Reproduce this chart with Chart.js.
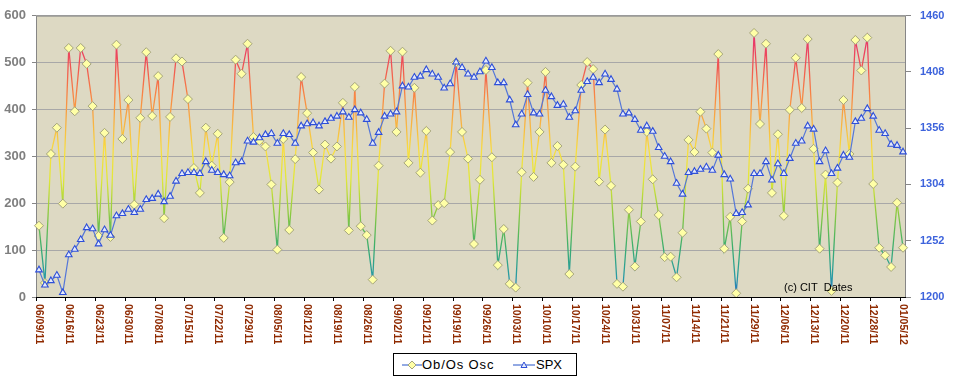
<!DOCTYPE html>
<html>
<head>
<meta charset="utf-8">
<script src="https://cdn.jsdelivr.net/npm/chart.js@4/dist/chart.umd.min.js"></script>
<style>
html,body{margin:0;padding:0;background:#fff;}
#wrap{position:relative;width:958px;height:381px;overflow:hidden;}
canvas{display:block;}
#legend{position:absolute;left:393px;top:353px;width:182px;height:21px;border:1px solid #000;background:#fff;
  font-family:"Liberation Sans",Arial,sans-serif;font-size:13px;color:#000;}
#legend .it{position:absolute;top:0;height:21px;line-height:21px;white-space:nowrap;}
#legend svg{position:absolute;top:0;}
</style>
</head>
<body>
<div id="wrap">
<canvas id="c" width="958" height="381"></canvas>
<div id="legend">
  <svg style="left:8px" width="20" height="21"><line x1="0" y1="11" x2="20" y2="11" stroke="#4A70D0" stroke-width="1.2"/><polygon points="10,7 14,11 10,15 6,11" fill="#FFFFA6" stroke="#A4A47C" stroke-width="1"/></svg>
  <span class="it" style="left:28px;letter-spacing:0.9px">Ob/Os Osc</span>
  <svg style="left:119px" width="22" height="21"><line x1="0" y1="11" x2="22" y2="11" stroke="#4A70D0" stroke-width="1.2"/><polygon points="11,8 14,13.5 8,13.5" fill="#E4EAFB" stroke="#2E4FD8" stroke-width="1"/></svg>
  <span class="it" style="left:142px">SPX</span>
</div>
</div>
<script>
const categories = [
'06/09/11','06/10/11','06/13/11','06/14/11','06/15/11','06/16/11','06/17/11','06/20/11','06/21/11','06/22/11',
'06/23/11','06/24/11','06/27/11','06/28/11','06/29/11','06/30/11','07/01/11','07/05/11','07/06/11','07/07/11',
'07/08/11','07/11/11','07/12/11','07/13/11','07/14/11','07/15/11','07/18/11','07/19/11','07/20/11','07/21/11',
'07/22/11','07/25/11','07/26/11','07/27/11','07/28/11','07/29/11','08/01/11','08/02/11','08/03/11','08/04/11',
'08/05/11','08/08/11','08/09/11','08/10/11','08/11/11','08/12/11','08/15/11','08/16/11','08/17/11','08/18/11',
'08/19/11','08/22/11','08/23/11','08/24/11','08/25/11','08/26/11','08/29/11','08/30/11','08/31/11','09/01/11',
'09/02/11','09/06/11','09/07/11','09/08/11','09/09/11','09/12/11','09/13/11','09/14/11','09/15/11','09/16/11',
'09/19/11','09/20/11','09/21/11','09/22/11','09/23/11','09/26/11','09/27/11','09/28/11','09/29/11','09/30/11',
'10/03/11','10/04/11','10/05/11','10/06/11','10/07/11','10/10/11','10/11/11','10/12/11','10/13/11','10/14/11',
'10/17/11','10/18/11','10/19/11','10/20/11','10/21/11','10/24/11','10/25/11','10/26/11','10/27/11','10/28/11',
'10/31/11','11/01/11','11/02/11','11/03/11','11/04/11','11/07/11','11/08/11','11/09/11','11/10/11','11/11/11',
'11/14/11','11/15/11','11/16/11','11/17/11','11/18/11','11/21/11','11/22/11','11/23/11','11/25/11','11/28/11',
'11/29/11','11/30/11','12/01/11','12/02/11','12/05/11','12/06/11','12/07/11','12/08/11','12/09/11','12/12/11',
'12/13/11','12/14/11','12/15/11','12/16/11','12/19/11','12/20/11','12/21/11','12/22/11','12/23/11','12/27/11',
'12/28/11','12/29/11','12/30/11','01/03/12','01/04/12','01/05/12'
];

const oscValues = [
152,30,305,361,199,531,396,531,497,407,
130,350,128,538,337,420,197,382,522,386,
471,168,384,509,502,422,275,222,361,280,
348,126,245,506,476,540,341,333,321,240,
101,337,143,294,469,392,308,229,325,295,
321,414,142,448,151,132,37,280,455,525,
352,523,286,446,265,354,163,196,200,309,
500,352,295,113,250,484,298,68,145,28,
20,266,457,256,352,480,286,322,282,49,
278,452,501,486,246,357,237,28,22,186,
65,161,352,251,175,85,86,42,137,335,
309,395,359,308,518,103,171,8,161,231,
563,369,540,222,347,173,399,510,403,550,
316,103,261,13,244,420,305,548,483,553,
241,105,89,64,201,105
];

const spxValues = [
1225,1211,1215,1220,1204,1239,1244,1253,1264,1263,
1249,1262,1257,1275,1277,1281,1278,1281,1290,1291,
1295,1288,1293,1307,1314,1315,1315,1314,1325,1317,
1315,1313,1312,1324,1325,1344,1343,1347,1350,1351,
1342,1351,1350,1342,1358,1360,1361,1358,1362,1365,
1367,1371,1366,1373,1370,1364,1342,1352,1367,1369,
1371,1395,1394,1403,1404,1410,1406,1403,1393,1397,
1417,1412,1406,1403,1408,1418,1412,1398,1398,1382,
1359,1369,1387,1370,1369,1391,1385,1377,1378,1366,
1372,1391,1399,1403,1398,1406,1401,1392,1369,1370,
1364,1354,1358,1353,1338,1330,1325,1305,1295,1315,
1316,1318,1320,1317,1331,1313,1309,1277,1278,1285,
1314,1314,1325,1308,1323,1314,1328,1342,1344,1358,
1355,1325,1335,1314,1319,1331,1329,1362,1365,1374,
1367,1354,1351,1341,1340,1334
];

const labelStep = 5;              // a date label every 5 trading days
const oscAxis = {min: 0, max: 600, step: 100};
const spxAxis = {min: 1200, max: 1460, step: 52};
const FONT = '"Liberation Sans", Arial, sans-serif';

let gradCache = null, gradKey = '';
function oscGradient(chart) {
  const ys = chart.scales.y;
  const y0 = ys.getPixelForValue(oscAxis.min), y1 = ys.getPixelForValue(oscAxis.max);
  const key = y0 + '_' + y1;
  if (gradCache && gradKey === key) return gradCache;
  const g = chart.ctx.createLinearGradient(0, y0, 0, y1);
  g.addColorStop(0.00, '#2F6CC4');
  g.addColorStop(0.07, '#279AA6');
  g.addColorStop(0.18, '#3CAE6C');
  g.addColorStop(0.30, '#8ECB3E');
  g.addColorStop(0.42, '#E2E838');
  g.addColorStop(0.52, '#F8DE40');
  g.addColorStop(0.62, '#F8B242');
  g.addColorStop(0.72, '#F88444');
  g.addColorStop(0.82, '#F05452');
  g.addColorStop(0.92, '#E8346C');
  g.addColorStop(1.00, '#E02080');
  gradCache = g; gradKey = key;
  return g;
}

const deco = {
  id: 'deco',
  beforeDraw(chart) {
    const {ctx, chartArea: a} = chart;
    ctx.save();
    ctx.fillStyle = '#DDD9C3';
    ctx.fillRect(a.left, a.top, a.right - a.left, a.bottom - a.top);
    ctx.restore();
  },
  beforeDatasetsDraw(chart) {
    const {ctx, chartArea: a} = chart;
    ctx.save();
    ctx.lineWidth = 1;
    ctx.strokeStyle = '#868686';
    ctx.beginPath();
    ctx.moveTo(a.left + 0.5, a.bottom);
    ctx.lineTo(a.left + 0.5, a.top + 0.5);
    ctx.lineTo(a.right - 0.5, a.top + 0.5);
    ctx.lineTo(a.right - 0.5, a.bottom);
    ctx.stroke();
    ctx.strokeStyle = '#000';
    ctx.beginPath();
    ctx.moveTo(a.left, a.bottom + 0.5);
    ctx.lineTo(a.right, a.bottom + 0.5);
    ctx.stroke();
    ctx.restore();
  },
  afterDraw(chart) {
    const {ctx, chartArea: a} = chart;
    const xs = chart.scales.x;
    ctx.save();
    ctx.font = 'bold 10.5px ' + FONT;
    ctx.fillStyle = '#8F2A00';
    ctx.textAlign = 'left';
    ctx.textBaseline = 'middle';
    categories.forEach((lab, i) => {
      if (i % labelStep !== 0) return;
      const x = xs.getPixelForValue(i);
      ctx.save();
      ctx.translate(x, a.bottom + 7);
      ctx.rotate(Math.PI / 2);
      ctx.fillText(lab, 0, 0);
      ctx.restore();
    });
    ctx.font = '11px ' + FONT;
    ctx.fillStyle = '#000';
    ctx.textBaseline = 'alphabetic';
    ctx.fillText('(c) CIT  Dates', a.right - 122, a.bottom - 6);
    ctx.restore();
  }
};

new Chart(document.getElementById('c'), {
  type: 'line',
  data: {
    labels: categories,
    datasets: [
      {
        label: 'Ob/Os Osc',
        data: oscValues,
        yAxisID: 'y',
        order: 1,
        borderColor: (c) => c.chart.chartArea ? oscGradient(c.chart) : '#F8B242',
        borderWidth: 1.3,
        tension: 0,
        pointStyle: 'rectRot',
        pointRadius: 4.5,
        pointBackgroundColor: '#FFFFA6',
        pointBorderColor: '#A4A47C',
        pointBorderWidth: 1
      },
      {
        label: 'SPX',
        data: spxValues,
        yAxisID: 'y1',
        order: 0,
        borderColor: '#5577D8',
        borderWidth: 1.2,
        tension: 0,
        pointStyle: 'triangle',
        pointRadius: 3.8,
        pointBackgroundColor: '#E4EAFB',
        pointBorderColor: '#2E4FD8',
        pointBorderWidth: 1.1
      }
    ]
  },
  options: {
    responsive: false,
    animation: false,
    devicePixelRatio: 1,
    layout: {padding: {left: 0, right: 0, top: 15, bottom: 0}},
    plugins: {legend: {display: false}, tooltip: {enabled: false}},
    scales: {
      x: {
        type: 'category',
        offset: true,
        ticks: {display: false},
        grid: {
          offset: true,
          drawOnChartArea: false,
          drawTicks: true,
          tickLength: 4,
          tickColor: (c) => (c.index !== undefined && c.index % labelStep === 0) ? '#000' : 'rgba(0,0,0,0)'
        },
        border: {display: false},
        afterFit(s) { s.height = 84; }
      },
      y: {
        position: 'left',
        min: oscAxis.min, max: oscAxis.max,
        ticks: {stepSize: oscAxis.step, color: '#7F7F7F', padding: 6, font: {family: FONT, size: 13, weight: 'bold'}},
        grid: {color: '#A8A8A8', tickColor: '#868686', tickLength: 4, lineWidth: 1},
        border: {display: false},
        afterFit(s) { s.width = 36; }
      },
      y1: {
        position: 'right',
        min: spxAxis.min, max: spxAxis.max,
        ticks: {stepSize: spxAxis.step, color: '#3D63DC', padding: 9, font: {family: FONT, size: 11, weight: 'bold'},
                callback: (v) => String(v)},
        grid: {drawOnChartArea: false, tickColor: '#868686', tickLength: 5},
        border: {display: false},
        afterFit(s) { s.width = 52; }
      }
    }
  },
  plugins: [deco]
});
</script>
</body>
</html>
